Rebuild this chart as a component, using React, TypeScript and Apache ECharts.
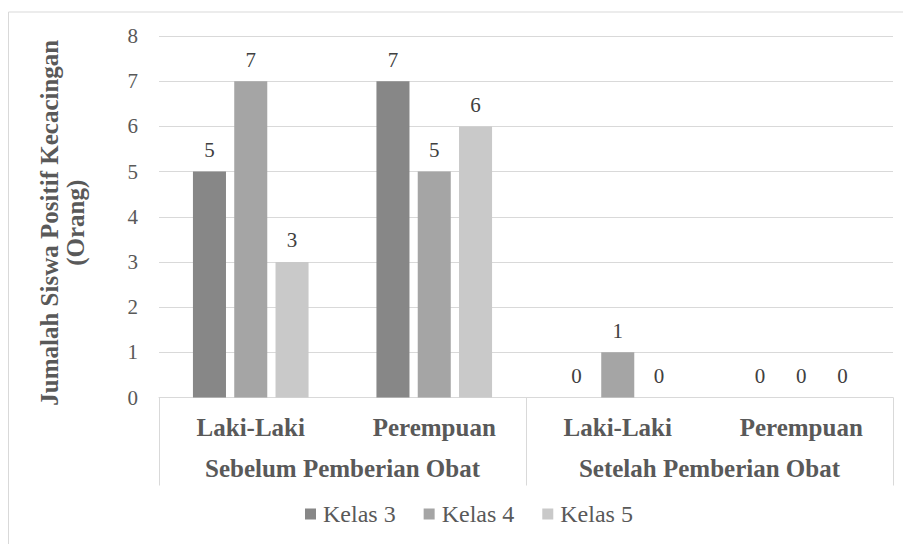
import React, { useEffect, useRef } from "react";
import * as echarts from "echarts";

const categories = ["Laki-Laki", "Perempuan", "Laki-Laki", "Perempuan"];
const groups = ["Sebelum Pemberian Obat", "Setelah Pemberian Obat"];
const seriesNames = ["Kelas 3", "Kelas 4", "Kelas 5"];
const kelas3 = [5, 7, 0, 0];
const kelas4 = [7, 5, 1, 0];
const kelas5 = [3, 6, 0, 0];
const colors = ["#878787", "#a5a5a5", "#c9c9c9"];
const yTicks = { min: 0, max: 8, interval: 1 };

export default function App() {
  const ref = useRef<HTMLDivElement>(null);
  useEffect(() => {
    if (!ref.current) return;
    const chart = echarts.init(ref.current, undefined, { renderer: "svg" });
    const font = "Liberation Serif";
    const data = [kelas3, kelas4, kelas5];
    chart.setOption({
      animation: false,
      textStyle: { fontFamily: font },
      graphic: [
        {
          type: "rect",
          shape: { x: 8.5, y: 12, width: 1000, height: 1000 },
          style: { fill: "none", stroke: "#d9d9d9", lineWidth: 1 },
          silent: true,
        },
      ],
      legend: {
        left: 300,
        top: 497,
        itemWidth: 11,
        itemHeight: 11,
        itemGap: 28,
        icon: "rect",
        textStyle: { fontFamily: font, fontSize: 24, color: "#595959", padding: [0, 0, 0, 2] },
        data: seriesNames,
      },
      grid: { left: 159, right: 10, top: 36, bottom: 146.5 },
      xAxis: [
        {
          type: "category",
          data: categories,
          position: "bottom",
          axisLine: { show: true, lineStyle: { color: "#d9d9d9", width: 1 } },
          axisTick: { show: false },
          axisLabel: {
            margin: 17,
            fontFamily: font,
            fontSize: 25,
            fontWeight: "bold",
            color: "#595959",
            interval: 0,
          },
        },
        {
          type: "category",
          data: groups,
          position: "bottom",
          axisLine: { show: false },
          axisTick: {
            show: true,
            length: 88,
            interval: 0,
            lineStyle: { color: "#d9d9d9", width: 1 },
          },
          axisLabel: {
            margin: 58,
            fontFamily: font,
            fontSize: 25,
            fontWeight: "bold",
            color: "#595959",
            interval: 0,
          },
        },
      ],
      yAxis: {
        type: "value",
        min: yTicks.min,
        max: yTicks.max,
        interval: yTicks.interval,
        name: "Jumalah Siswa Positif Kecacingan\n(Orang)",
        nameLocation: "middle",
        nameRotate: 90,
        nameGap: 71,
        nameTextStyle: {
          fontFamily: font,
          fontSize: 25,
          fontWeight: "bold",
          color: "#595959",
          lineHeight: 26,
          padding: [0, 12, 0, 0],
        },
        axisLine: { show: false },
        axisTick: { show: false },
        axisLabel: { margin: 21, fontFamily: font, fontSize: 21, color: "#595959" },
        splitLine: { lineStyle: { color: "#d9d9d9", width: 1 } },
      },
      series: seriesNames.map((name, i) => ({
        name,
        type: "bar",
        xAxisIndex: 0,
        data: data[i],
        barWidth: "18%",
        barGap: "25%",
        itemStyle: { color: colors[i] },
        label: {
          show: true,
          position: "top",
          distance: 11,
          fontFamily: font,
          fontSize: 21,
          color: "#404040",
        },
      })),
    });
    return () => chart.dispose();
  }, []);
  return (
    <div
      ref={ref}
      style={{ position: "fixed", left: 0, top: 0, width: 903, height: 544, background: "#fff" }}
    />
  );
}
